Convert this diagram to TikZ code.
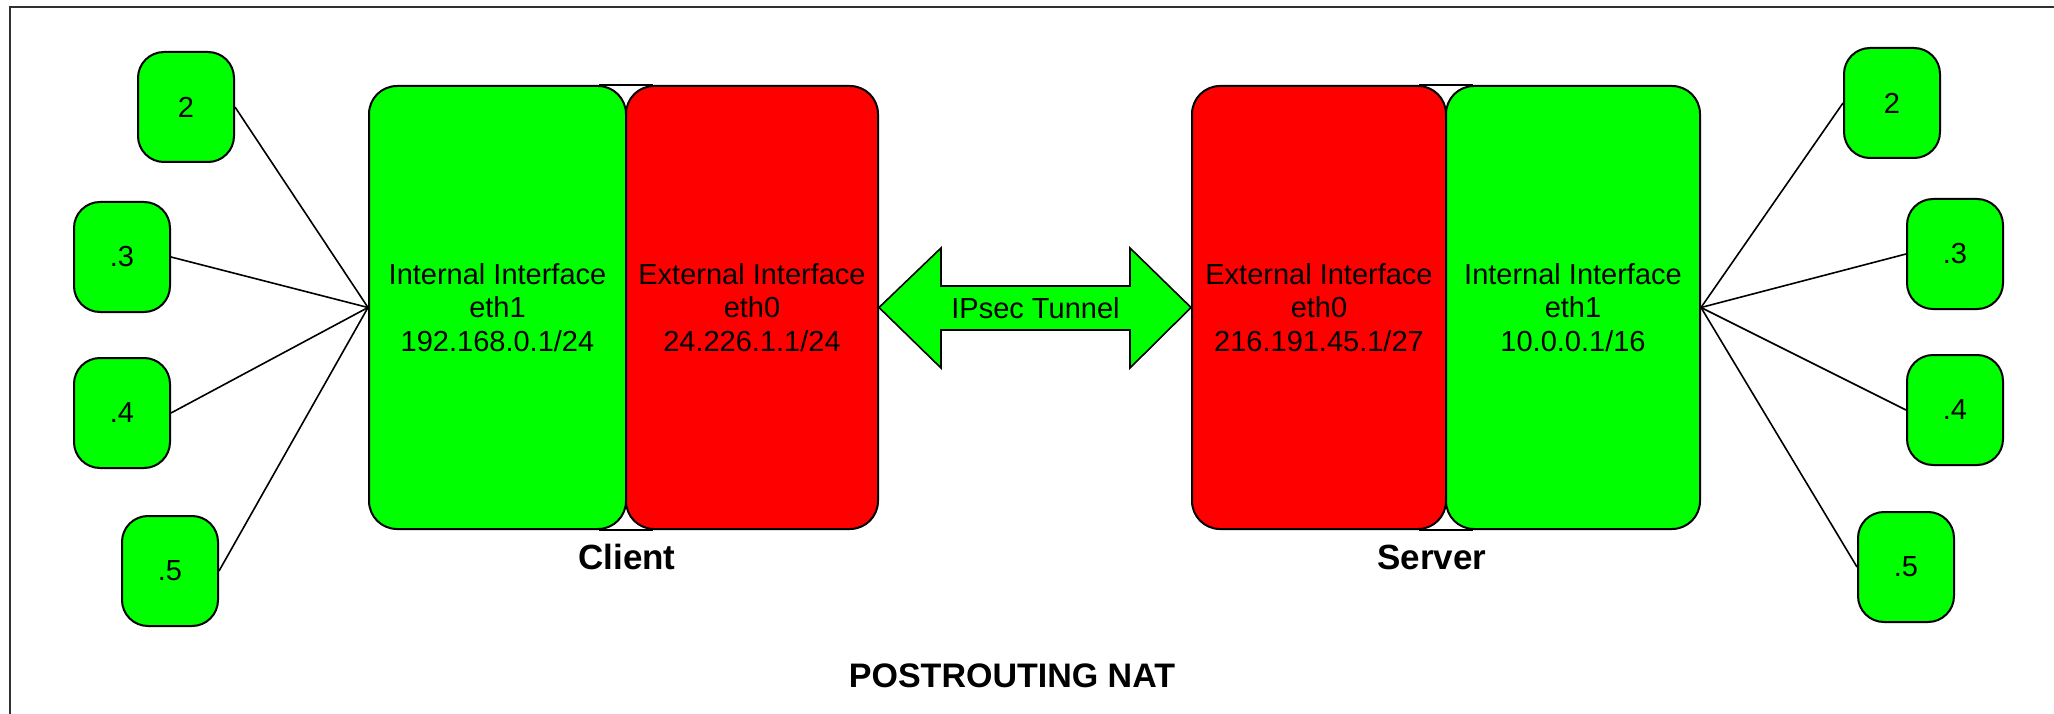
\documentclass[tikz,border=0pt]{standalone}
\usepackage{fontspec}
\setmainfont{Liberation Sans}
\definecolor{hgreen}{HTML}{00FF00}
\definecolor{hred}{HTML}{FF0000}
\definecolor{framegray}{HTML}{303030}
\tikzset{
  host/.style={draw=black, line width=2pt, fill=hgreen, rounded corners=26pt,
    minimum width=96pt, minimum height=110pt, inner sep=0pt,
    font=\fontsize{29}{33}\selectfont},
  iface/.style={draw=black, line width=2pt, rounded corners=28pt,
    minimum height=443pt, inner sep=0pt, align=center,
    font=\fontsize{29}{33.5}\selectfont},
  ingreen/.style={iface, fill=hgreen},
  exred/.style={iface, fill=hred},
  link/.style={draw=black, line width=1.6pt},
  tunnel/.style={draw=black, line width=1.6pt, fill=hgreen},
  lbl/.style={font=\fontsize{35}{40}\selectfont\bfseries, inner sep=0pt},
}
\begin{document}
\begin{tikzpicture}[x=1pt,y=-1pt]
\useasboundingbox (0,0) rectangle (2054,714);
\fill[white] (0,0) rectangle (2054,714);
\draw[framegray, line width=2.5pt] (10,714) -- (10,7) -- (2054,7);

% left hosts
\node[host] (l2) at (186,107) {2};
\node[host] (l3) at (122,257) {.3};
\node[host] (l4) at (122,413) {.4};
\node[host] (l5) at (170,571) {.5};
% right hosts
\node[host] (r2) at (1892,103) {2};
\node[host] (r3) at (1955,254) {.3};
\node[host] (r4) at (1955,410) {.4};
\node[host] (r5) at (1906,567) {.5};

% interface boxes
\node[ingreen, minimum width=257pt] (cg) at (497.5,307.5) {Internal Interface\\eth1\\192.168.0.1/24};
\node[exred, minimum width=252pt] (cr) at (752,307.5) {External Interface\\eth0\\24.226.1.1/24};
\node[exred, minimum width=254pt] (sr) at (1319,307.5) {External Interface\\eth0\\216.191.45.1/27};
\node[ingreen, minimum width=254pt] (sg) at (1573,307.5) {Internal Interface\\eth1\\10.0.0.1/16};

% gap lines joining the paired boxes
\draw[line width=2pt] ([xshift=-28pt]cg.north east) -- ([xshift=28pt]cr.north west);
\draw[line width=2pt] ([xshift=-28pt]cg.south east) -- ([xshift=28pt]cr.south west);
\draw[line width=2pt] ([xshift=-28pt]sr.north east) -- ([xshift=28pt]sg.north west);
\draw[line width=2pt] ([xshift=-28pt]sr.south east) -- ([xshift=28pt]sg.south west);

% host links
\foreach \n in {2,3,4,5} {
  \draw[link] (l\n.east) -- (cg.west);
  \draw[link] (r\n.west) -- (sg.east);
}

% IPsec tunnel double arrow
\draw[tunnel] (cr.east) -- (941,248) -- (941,286) -- (1130,286) -- (1130,248)
  -- (sr.west) -- (1130,368) -- (1130,330) -- (941,330) -- (941,368) -- cycle;
\node[font=\fontsize{29}{33}\selectfont, inner sep=0pt] (tun) at (1035.5,308) {IPsec Tunnel};

% labels
\node[lbl] (client) at (627,557) {Client};
\node[lbl] (server) at (1432,557) {Server};
\node[lbl, font=\fontsize{34}{40}\selectfont\bfseries] (nat) at (1012,676) {POSTROUTING NAT};
\end{tikzpicture}
\end{document}
